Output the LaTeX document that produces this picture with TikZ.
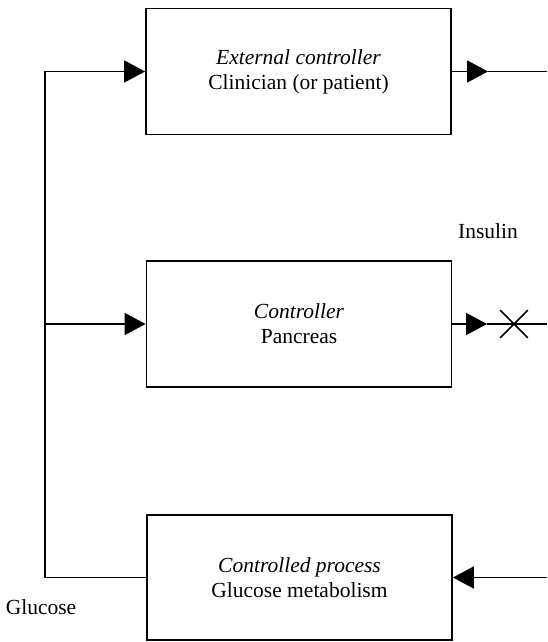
\documentclass[tikz,border=0pt]{standalone}
\usepackage{fontspec}
\setmainfont{Liberation Serif}
\usetikzlibrary{arrows.meta,shapes.misc}
\begin{document}
\begin{tikzpicture}[x=1pt,y=-1pt,
  line width=1.8pt,
  font=\fontsize{21.5}{25}\selectfont,
  block/.style={draw,rectangle,align=center,minimum width=305pt,minimum height=126pt,inner sep=0pt},
  arr/.style={-{Triangle[length=21pt,width=22pt]}},
  crossmark/.style={draw,cross out,minimum size=26pt,inner sep=0pt,line width=1.6pt}]
\useasboundingbox (0,0) rectangle (547,642);

% the three blocks of the loop
\node[block] (ext)  at (298.5,71.5) {\textit{External controller}\\Clinician (or patient)};
\node[block] (ctl)  at (299,324)    {\textit{Controller}\\Pancreas};
\node[block,minimum height=125pt] (proc) at (299.5,577.5) {\textit{Controlled process}\\Glucose metabolism};

% signal labels
\node (ins) at (488,231) {Insulin};
\node (glu) at (41,607)  {Glucose};

% routing points
\coordinate (tA) at (488,71.5);
\coordinate (oA) at (547,71.5);
\coordinate (tB) at (487,324);
\coordinate (oB) at (547,324);
\coordinate (oC) at (547,577.5);
\coordinate (L1) at (45,71.5);
\coordinate (L2) at (45,324);
\coordinate (L3) at (45,577.5);

% insulin outputs
\draw[arr] (ext.east) -- (tA);
\draw (tA) -- (oA);
\draw[arr] (ctl.east) -- (tB);
\draw (tB) -- (oB);
\node[crossmark] (cut) at (514,324) {};

% insulin into the process
\draw[arr] (oC) -- (proc.east);

% glucose feedback
\draw[arr] (proc.west) -- (L3) -- (L1) -- (ext.west);
\draw[arr] (L2) -- (ctl.west);
\end{tikzpicture}
\end{document}
